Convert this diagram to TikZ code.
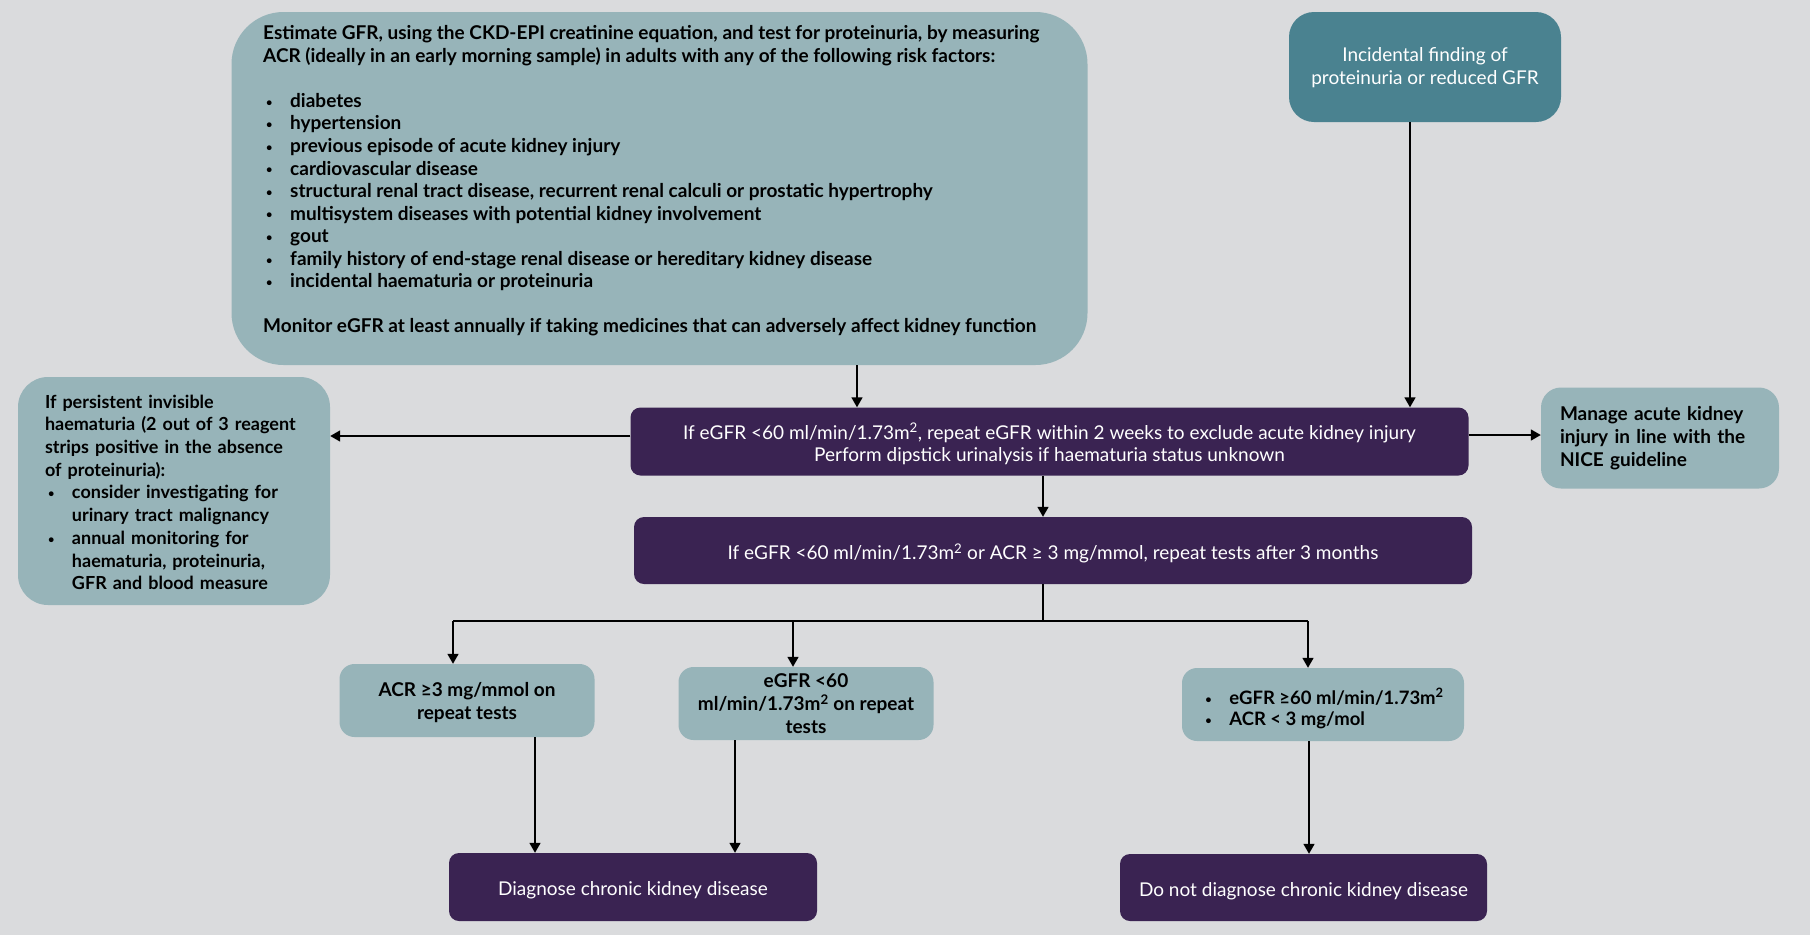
\documentclass[tikz,border=0pt]{standalone}
\usepackage{fontspec}
\setmainfont{Lato}
\usetikzlibrary{arrows.meta,calc}
\definecolor{bg}{HTML}{DADBDD}
\definecolor{lteal}{HTML}{97B4B9}
\definecolor{dteal}{HTML}{4A8290}
\definecolor{purp}{HTML}{3A2352}
\newcommand\bul{\makebox[27pt][l]{\hspace{3pt}\raisebox{1.2pt}{\fontsize{11}{11}\selectfont\textbullet}}}
\newcommand\ind{\hspace*{27pt}}
\newcommand\tp[1]{\rule{0pt}{#1pt}}
\begin{document}
\begin{tikzpicture}[x=1pt,y=-1pt,
 lbox/.style={fill=lteal, draw=none, inner sep=0pt, text=black,
   font=\bfseries\fontsize{19}{23}\selectfont},
 dbox/.style={fill=dteal, draw=none, inner sep=0pt, text=white, align=center,
   font=\fontsize{19}{23}\selectfont},
 pbox/.style={fill=purp, draw=none, rounded corners=10pt, inner sep=0pt, text=white,
   align=center, font=\fontsize{19}{22.5}\selectfont},
 txt/.style={inner sep=0pt, align=left, text=black, font=\bfseries\fontsize{19}{22.55}\selectfont},
 arr/.style={line width=1.6pt, -{Triangle[length=10pt,width=11pt]}},
 thinline/.style={line width=1.1pt}]
\fill[bg] (0,0) rectangle (1810,935);
\useasboundingbox (0,0) rectangle (1810,935);

% boxes
\node[lbox, rounded corners=52pt, minimum width=856pt, minimum height=353pt] (top) at (659.5,188.5) {};
\node[txt, anchor=west] (topT) at (263,181) {Estimate GFR, using the CKD-EPI creatinine equation, and test for proteinuria, by measuring\\
ACR (ideally in an early morning sample) in adults with any of the following risk factors:\\[22.55pt]
\bul diabetes\\
\bul hypertension\\
\bul previous episode of acute kidney injury\\
\bul cardiovascular disease\\
\bul structural renal tract disease, recurrent renal calculi or prostatic hypertrophy\\
\bul multisystem diseases with potential kidney involvement\\
\bul gout\\
\bul family history of end-stage renal disease or hereditary kidney disease\\
\bul incidental haematuria or proteinuria\\[22.55pt]
Monitor eGFR at least annually if taking medicines that can adversely affect kidney function};

\node[dbox, rounded corners=25pt, minimum width=272pt, minimum height=110pt] (inc) at (1425,67)
 {\tp{16}Incidental finding of\\proteinuria or reduced GFR};

\node[lbox, rounded corners=20pt, minimum width=238pt, minimum height=101pt, text width=200pt, align=left] (aki) at (1660,438)
 {\mbox{Manage acute kidney}\\\mbox{injury in line with the}\\\mbox{NICE guideline}};

\node[lbox, rounded corners=30pt, minimum width=312pt, minimum height=228pt, text width=258pt, align=left,
   font=\bfseries\fontsize{18}{22.7}\selectfont] (haem) at (174,491)
 {\tp{16}If persistent invisible\\haematuria (2 out of 3 reagent\\strips positive in the absence\\of proteinuria):\\
 \bul consider investigating for\\\ind urinary tract malignancy\\
 \bul annual monitoring for\\\ind haematuria, proteinuria,\\\ind GFR and blood measure};

\node[pbox, minimum width=838pt, minimum height=68pt] (p1) at (1049.5,441.5)
 {\tp{21}If eGFR <60 ml/min/1.73m\textsuperscript{2}, repeat eGFR within 2 weeks to exclude acute kidney injury\\Perform dipstick urinalysis if haematuria status unknown};

\node[pbox, minimum width=838pt, minimum height=67pt] (p2) at (1053,550.5)
 {\tp{21}If eGFR <60 ml/min/1.73m\textsuperscript{2} or ACR ≥ 3 mg/mmol, repeat tests after 3 months};

\node[lbox, rounded corners=15pt, minimum width=255pt, minimum height=73pt, align=center] (acr) at (467,700.5)
 {\tp{19}ACR ≥3 mg/mmol on\\repeat tests};
\node[lbox, rounded corners=15pt, minimum width=255pt, minimum height=73pt, align=center] (egfr) at (806,703.5)
 {eGFR <60\\ml/min/1.73m\textsuperscript{2} on repeat\\tests};
\node[lbox, rounded corners=15pt, minimum width=282pt, minimum height=73pt,
   font=\bfseries\fontsize{18.5}{22}\selectfont] (norm) at (1323,704.5)
 {\raisebox{-10pt}[0pt][0pt]{\begin{tabular}{@{}l@{}}\bul eGFR ≥60 ml/min/1.73m\textsuperscript{2}\\[-1pt]\bul ACR < 3 mg/mol\end{tabular}}};

\node[pbox, minimum width=368pt, minimum height=68pt] (diag) at (633,887) {\tp{21}Diagnose chronic kidney disease};
\node[pbox, minimum width=367pt, minimum height=67pt] (nodiag) at (1303.5,887.5) {\tp{21}Do not diagnose chronic kidney disease};

% connectors
\coordinate (c1) at (857,0);
\coordinate (c2) at (1410,0);
\coordinate (c3) at (0,436);
\coordinate (c4) at (0,435);
\coordinate (c5) at (1043,0);
\coordinate (cb) at (1043,621);
\coordinate (bl) at (453,621);
\coordinate (bm) at (793,621);
\coordinate (br) at (1308,621);
\coordinate (d1) at (535,0);
\coordinate (d2) at (735,0);
\coordinate (d3) at (1309,0);

\draw[arr] (c1 |- top.south) -- (c1 |- p1.north);
\draw[arr] (c2 |- inc.south) -- (c2 |- p1.north);
\draw[arr] (c3 -| p1.west) -- (c3 -| haem.east);
\draw[arr] (c4 -| p1.east) -- (c4 -| aki.west);
\draw[arr] (c5 |- p1.south) -- (c5 |- p2.north);
\draw[thinline] (cb |- p2.south) -- (cb);
\draw[thinline] (bl) -- (br);
\draw[arr] (bl) -- (bl |- acr.north);
\draw[arr] (bm) -- (bm |- egfr.north);
\draw[arr] (br) -- (br |- norm.north);
\draw[arr] (d1 |- acr.south) -- (d1 |- diag.north);
\draw[arr] (d2 |- egfr.south) -- (d2 |- diag.north);
\draw[arr] (d3 |- norm.south) -- (d3 |- nodiag.north);
\end{tikzpicture}
\end{document}
